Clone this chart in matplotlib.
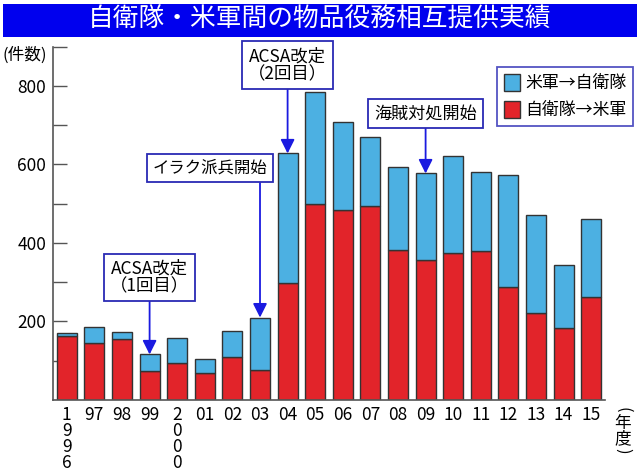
import matplotlib
matplotlib.use('Agg')
import matplotlib.pyplot as plt
from matplotlib.patches import Rectangle, Patch

plt.rcParams['font.family'] = ['Noto Sans CJK JP', 'DejaVu Sans']

# --- data ---
years = ['1\n9\n9\n6', '97', '98', '99', '2\n0\n0\n0', '01', '02', '03', '04', '05',
         '06', '07', '08', '09', '10', '11', '12', '13', '14', '15']
jsdf_to_us = [163, 144, 155, 74, 93, 70, 110, 76, 297, 499,
              484, 495, 382, 357, 374, 379, 287, 221, 184, 262]
us_to_jsdf = [8, 42, 17, 42, 66, 34, 65, 134, 331, 285,
              223, 174, 211, 220, 248, 202, 285, 250, 159, 199]

# events: (bar index, label, box x, box y, arrow start y, font size)
events = [
    (3, 'ACSA改定\n（1回目）', 3.0, 312, 260, 12.5),
    (7, 'イラク派兵開始', 5.2, 590, 553, 11.8),
    (8, 'ACSA改定\n（2回目）', 8.0, 853, 803, 12.5),
    (13, '海賊対処開始', 13.0, 730, 693, 12.3),
]

RED = '#e2242a'
BLUE = '#4cb0e2'
EDGE = '#333333'
FRAME = '#2a2ab4'
AXIS = '#555555'

fig = plt.figure(figsize=(6.4, 4.73), dpi=100)
fig.patch.set_facecolor('white')

# title banner
fig.patches.append(Rectangle((3 / 640, 1 - 37 / 473), 634 / 640, 33 / 473,
                             transform=fig.transFigure, facecolor='#0000ee',
                             edgecolor='none', zorder=0))
fig.text(0.5, 1 - 20 / 473, '自衛隊・米軍間の物品役務相互提供実績', color='white',
         fontsize=18.5, ha='center', va='center')

ax = fig.add_axes([53 / 640, 1 - 400 / 473, 552 / 640, 353.3 / 473])
x = list(range(len(years)))
totals = [a + b for a, b in zip(jsdf_to_us, us_to_jsdf)]
ax.bar(x, jsdf_to_us, width=0.72, color=RED, edgecolor=EDGE, linewidth=1, zorder=2)
ax.bar(x, us_to_jsdf, bottom=jsdf_to_us, width=0.72, color=BLUE, edgecolor=EDGE,
       linewidth=1, zorder=2)

ax.set_xlim(-0.5, 19.5)
ax.set_ylim(0, 900)
ax.set_yticks([200, 400, 600, 800])
ax.set_yticks([100, 300, 500, 700, 900], minor=True)
ax.tick_params(axis='y', which='both', direction='in', length=10, width=1,
               color=AXIS, labelsize=12.5, pad=5)
ax.set_xticks(x)
ax.set_xticklabels(years, fontsize=12.5, va='top', linespacing=0.86)
ax.tick_params(axis='x', length=0, pad=4)
for side in ['top', 'right']:
    ax.spines[side].set_visible(False)
for side in ['left', 'bottom']:
    ax.spines[side].set_color(AXIS)
    ax.spines[side].set_linewidth(1.2)

for idx, label, bx, by, ybot, fs in events:
    ax.text(bx, by, label, ha='center', va='center', fontsize=fs, linespacing=1.0,
            zorder=5, clip_on=False,
            bbox=dict(boxstyle='square,pad=0.34', facecolor='white', edgecolor=FRAME, linewidth=1.3))
    ax.annotate('', xy=(idx, totals[idx]), xytext=(idx, ybot), zorder=4,
                arrowprops=dict(arrowstyle='-|>,head_length=0.6,head_width=0.3',
                                mutation_scale=14, color='#1a1ae0', linewidth=1.3,
                                shrinkA=0, shrinkB=0))

handles = [Patch(facecolor=BLUE, edgecolor=EDGE, label='米軍→自衛隊'),
           Patch(facecolor=RED, edgecolor=EDGE, label='自衛隊→米軍')]
leg = fig.legend(handles=handles, loc='upper right', bbox_to_anchor=(633 / 640, 1 - 67 / 473),
                 borderaxespad=0, fancybox=False, edgecolor=FRAME, fontsize=12.2,
                 handlelength=0.95, handleheight=1.2, handletextpad=0.3, borderpad=0.4,
                 labelspacing=0.5)
leg.get_frame().set_linewidth(1.3)

fig.text(3 / 640, 1 - 55 / 473, '(件数)', fontsize=12, ha='left', va='center')

# vertical "（年度）"
xv = 623 / 640
fig.text(xv, 1 - 410 / 473, '(', fontsize=12, rotation=-90, ha='center', va='center')
fig.text(xv, 1 - 423 / 473, '年', fontsize=12, ha='center', va='center')
fig.text(xv, 1 - 439 / 473, '度', fontsize=12, ha='center', va='center')
fig.text(xv, 1 - 451 / 473, ')', fontsize=12, rotation=-90, ha='center', va='center')

fig.savefig('out.png', dpi=100, facecolor='white')
